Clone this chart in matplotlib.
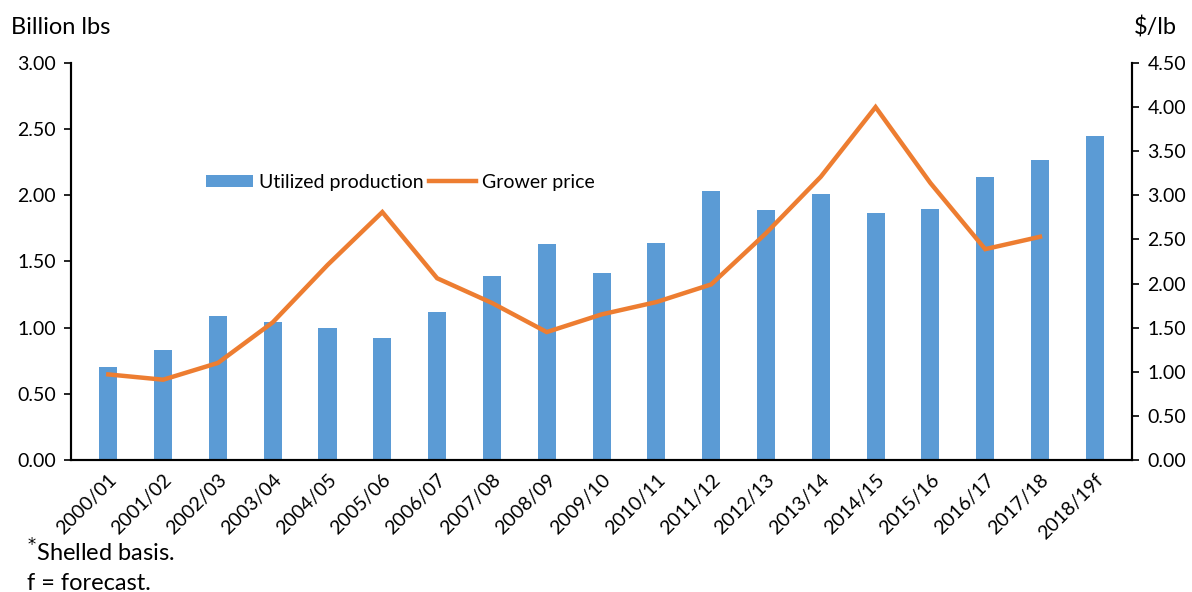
import matplotlib.pyplot as plt
import numpy as np

plt.rcParams['font.family'] = ['Lato', 'DejaVu Sans']

# Data
seasons = ["2000/01", "2001/02", "2002/03", "2003/04", "2004/05", "2005/06", "2006/07",
           "2007/08", "2008/09", "2009/10", "2010/11", "2011/12", "2012/13", "2013/14",
           "2014/15", "2015/16", "2016/17", "2017/18", "2018/19f"]
production = [0.70, 0.83, 1.09, 1.04, 1.00, 0.92, 1.12, 1.39, 1.63, 1.41, 1.64, 2.03,
              1.89, 2.01, 1.87, 1.90, 2.14, 2.27, 2.45]
price = [0.97, 0.91, 1.10, 1.56, 2.21, 2.81, 2.06, 1.78, 1.45, 1.65, 1.79, 1.99,
         2.57, 3.21, 4.00, 3.14, 2.39, 2.53]

fig = plt.figure(figsize=(11.92, 5.92), dpi=100)
ax = fig.add_axes([0.0596, 0.223, 0.8901, 0.6706])
ax2 = ax.twinx()

x = np.arange(len(seasons))
bars = ax.bar(x, production, width=0.33, color="#5B9BD5", label="Utilized production", zorder=2)
line, = ax2.plot(x[:len(price)], price, color="#ED7D31", linewidth=3.2, label="Grower price",
                 solid_joinstyle="miter", zorder=3)

ax.set_xlim(-0.68, len(seasons) - 0.32)
ax.set_ylim(0, 3.0)
ax2.set_ylim(0, 4.5)
ax.set_yticks(np.arange(0, 3.01, 0.5))
ax2.set_yticks(np.arange(0, 4.51, 0.5))
ax.set_yticklabels([f"{v:.2f}" for v in np.arange(0, 3.01, 0.5)], fontsize=14)
ax2.set_yticklabels([f"{v:.2f}" for v in np.arange(0, 4.51, 0.5)], fontsize=14)

ax.set_xticks(x)
ax.set_xticklabels(seasons, rotation=45, ha="right", rotation_mode="anchor", fontsize=14)
ax.tick_params(axis="x", length=0, pad=8)
ax.tick_params(axis="y", length=5, width=1.2, direction="out", pad=6)
ax2.tick_params(axis="y", length=5, width=1.2, direction="out", pad=6)

for a in (ax, ax2):
    a.spines["top"].set_visible(False)
    for s in ("left", "right", "bottom"):
        a.spines[s].set_linewidth(1.5)
        a.spines[s].set_color("black")

ax.legend([bars, line], ["Utilized production", "Grower price"], loc="upper left",
          bbox_to_anchor=(0.12, 0.74), ncol=2, frameon=False, fontsize=14,
          handlelength=2.4, handleheight=0.6, columnspacing=0.3, handletextpad=0.3,
          borderaxespad=0)

fig.text(0.009, 0.953, "Billion lbs", fontsize=17, va="center", ha="left")
fig.text(0.951, 0.953, "$/lb", fontsize=17, va="center", ha="left")
fig.text(0.023, 0.068, r"$^{*}$Shelled basis.", fontsize=17, va="center", ha="left")
fig.text(0.023, 0.015, "f = forecast.", fontsize=17, va="center", ha="left")

plt.savefig("out.png", dpi=100)
plt.close()
